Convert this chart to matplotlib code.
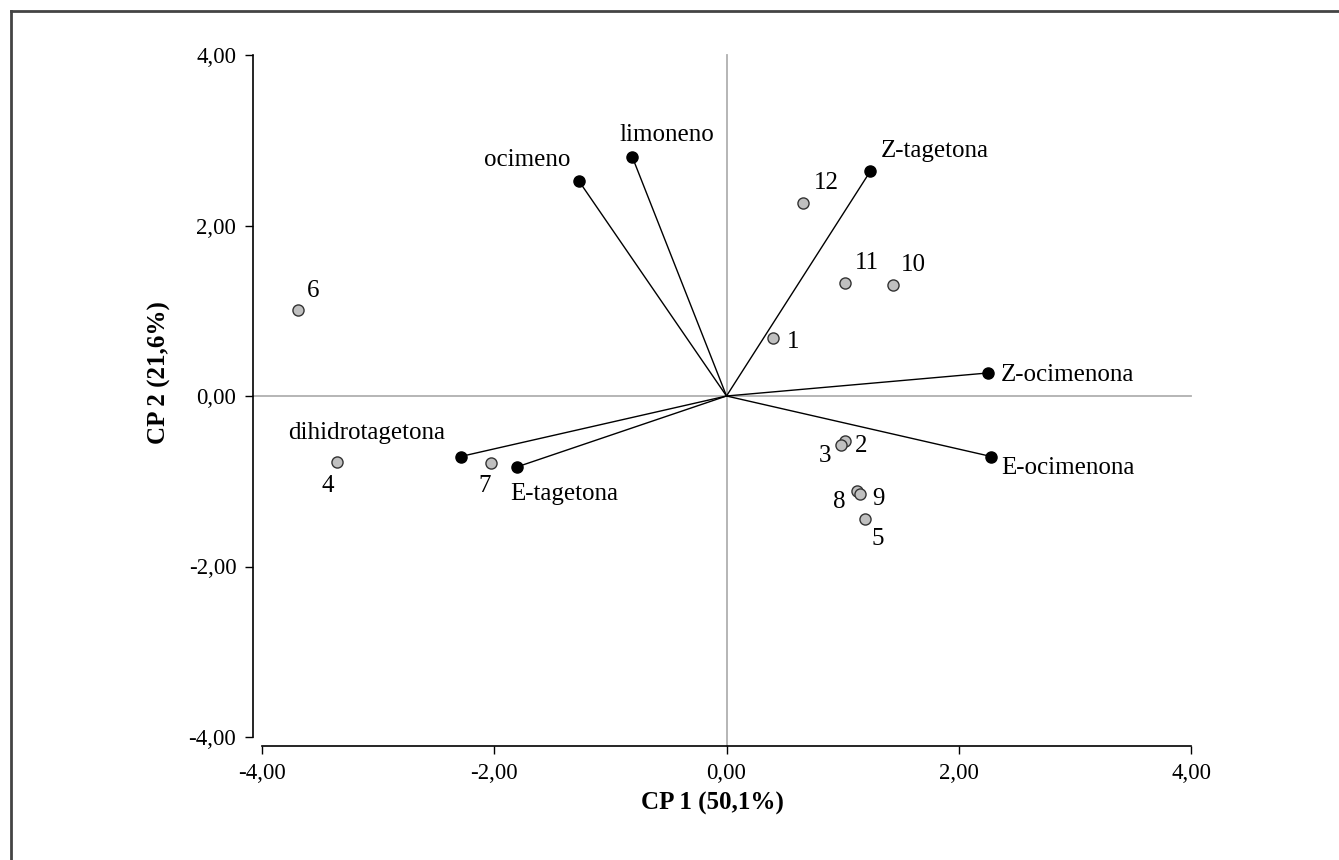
import matplotlib
matplotlib.use('Agg')
import matplotlib.pyplot as plt
from matplotlib.ticker import FuncFormatter
from matplotlib.lines import Line2D

plt.rcParams['font.family'] = ['Liberation Serif', 'DejaVu Serif']

# samples (scores)
sample_labels = ['1', '2', '3', '4', '5', '6', '7', '8', '9', '10', '11', '12']
sample_x = [0.40, 1.02, 0.99, -3.35, 1.19, -3.69, -2.03, 1.12, 1.15, 1.43, 1.02, 0.66]
sample_y = [0.68, -0.53, -0.57, -0.78, -1.44, 1.01, -0.79, -1.12, -1.15, 1.30, 1.33, 2.26]

# compounds (loadings)
var_labels = ['ocimeno', 'limoneno', 'Z-tagetona', 'Z-ocimenona', 'E-ocimenona',
              'dihidrotagetona', 'E-tagetona']
var_x = [-1.27, -0.81, 1.24, 2.25, 2.28, -2.29, -1.80]
var_y = [2.52, 2.80, 2.64, 0.27, -0.71, -0.71, -0.83]

# label offsets in pixels (dx, dy, horizontal alignment)
sample_off = {
    '1': (20, -4, 'center'), '2': (16, -5, 'center'), '3': (-16, -11, 'center'),
    '4': (-10, -24, 'center'), '5': (13, -20, 'center'), '6': (15, 19, 'center'),
    '7': (-6, -23, 'center'), '8': (-17, -11, 'center'), '9': (18, -5, 'center'),
    '10': (21, 20, 'center'), '11': (22, 20, 'center'), '12': (23, 20, 'center'),
}
var_off = {
    'ocimeno': (-52, 21, 'center'), 'limoneno': (34, 22, 'center'),
    'Z-tagetona': (10, 20, 'left'), 'Z-ocimenona': (13, -2, 'left'),
    'E-ocimenona': (10, -11, 'left'), 'dihidrotagetona': (-94, 24, 'center'),
    'E-tagetona': (-7, -27, 'left'),
}

fig = plt.figure(figsize=(13.39, 8.6), dpi=100)
ax = fig.add_axes([262 / 1339, 1 - 737 / 860, 929 / 1339, 682 / 860])

# reference lines through the origin
ax.axhline(0, xmin=-9 / 929, xmax=1, color='#b0b0b0', lw=1.3, clip_on=False, zorder=1)
ax.axvline(0, ymin=-9 / 682, ymax=1, color='#b0b0b0', lw=1.3, clip_on=False, zorder=1)

for x, y in zip(var_x, var_y):
    ax.plot([0, x], [0, y], color='black', lw=1.0, zorder=2)
ax.plot(var_x, var_y, 'o', color='black', ms=8, zorder=4)
ax.plot(sample_x, sample_y, 'o', mfc='#c0c0c0', mec='#333333', mew=1.0, ms=8, zorder=3)

for lab, x, y in zip(sample_labels, sample_x, sample_y):
    dx, dy, ha = sample_off[lab]
    ax.annotate(lab, (x, y), xytext=(dx, dy), textcoords='offset pixels',
                ha=ha, va='center', fontsize=18)
for lab, x, y in zip(var_labels, var_x, var_y):
    dx, dy, ha = var_off[lab]
    ax.annotate(lab, (x, y), xytext=(dx, dy), textcoords='offset pixels',
                ha=ha, va='center', fontsize=18)

ax.set_xlim(-4, 4)
ax.set_ylim(-4, 4)
ax.set_xticks([-4, -2, 0, 2, 4])
ax.set_yticks([-4, -2, 0, 2, 4])
fmt = FuncFormatter(lambda v, p: '{:.2f}'.format(v).replace('.', ',').replace('-0,00', '0,00'))
ax.xaxis.set_major_formatter(fmt)
ax.yaxis.set_major_formatter(fmt)
ax.tick_params(direction='out', length=6, width=1, labelsize=16.5, pad=6)

for s in ['top', 'right']:
    ax.spines[s].set_visible(False)
ax.spines['left'].set_position(('outward', 6.5))
ax.spines['bottom'].set_position(('outward', 6.5))
ax.spines['left'].set_linewidth(1.2)
ax.spines['bottom'].set_linewidth(1.2)

ax.set_xlabel('CP 1 (50,1%)', fontsize=18, fontweight='bold')
ax.set_ylabel('CP 2 (21,6%)', fontsize=18, fontweight='bold')
ax.xaxis.set_label_coords(0.485, -0.08)
ax.yaxis.set_label_coords(-0.098, 0.535)

# outer frame (cropped on right and bottom)
fig.add_artist(Line2D([11 / 1339, 1], [1 - 11 / 860, 1 - 11 / 860], color='#444444', lw=2,
                      transform=fig.transFigure))
fig.add_artist(Line2D([11 / 1339, 11 / 1339], [0, 1 - 11 / 860], color='#444444', lw=2,
                      transform=fig.transFigure))

fig.savefig('out.png', dpi=100, facecolor='white')
